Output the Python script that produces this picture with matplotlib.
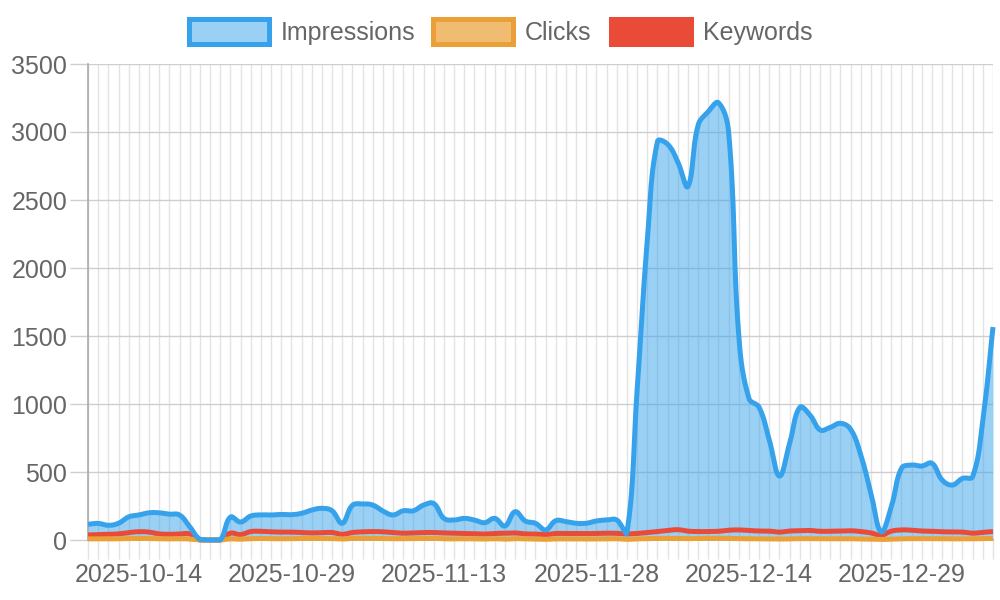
import numpy as np
import pandas as pd
import matplotlib
matplotlib.use("Agg")
import matplotlib.pyplot as plt
from matplotlib.patches import Rectangle

# daily data, one date missing in the export
dates = pd.date_range("2025-10-09", "2026-01-07", freq="D")
dates = dates[dates != pd.Timestamp("2025-12-06")]
date_labels = [d.strftime("%Y-%m-%d") for d in dates]

impressions = [115, 122, 108, 123, 170, 184, 200, 200, 190, 184,
               98, 5, 0, 0, 168, 132, 176, 185, 184, 188,
               186, 196, 220, 233, 215, 123, 255, 265, 257, 213,
               184, 215, 215, 257, 268, 159, 147, 159, 147, 127,
               159, 103, 208, 140, 123, 74, 142, 135, 123, 123,
               140, 147, 147, 55, 1100, 2200, 2930, 2910, 2780, 2600,
               3050, 3150, 3215, 3000, 1500, 1040, 975, 735, 470, 711,
               975, 919, 809, 828, 858, 814, 625, 343, 60, 245,
               527, 551, 544, 564, 441, 404, 453, 466, 880, 1566]

clicks = [8, 9, 8, 10, 11, 12, 10, 9, 8, 9,
          7, 0, 0, 0, 8, 6, 10, 11, 10, 9,
          10, 11, 12, 11, 10, 7, 12, 13, 12, 10,
          9, 10, 11, 12, 12, 9, 8, 9, 8, 7,
          9, 6, 10, 8, 7, 5, 8, 8, 7, 7,
          8, 8, 9, 5, 8, 10, 12, 12, 11, 10,
          12, 13, 13, 12, 10, 9, 9, 8, 7, 8,
          10, 10, 9, 9, 10, 9, 8, 6, 4, 6,
          9, 10, 10, 10, 9, 8, 9, 9, 10, 12]

keywords = [37, 40, 42, 45, 55, 61, 58, 45, 42, 44,
            45, 0, 0, 0, 50, 40, 62, 64, 60, 58,
            58, 55, 52, 54, 55, 42, 55, 60, 62, 60,
            55, 50, 52, 55, 55, 52, 50, 48, 46, 44,
            48, 50, 52, 45, 44, 40, 48, 47, 48, 47,
            48, 50, 49, 45, 48, 55, 62, 70, 76, 65,
            62, 62, 64, 72, 74, 70, 66, 65, 58, 66,
            68, 70, 64, 64, 66, 68, 62, 52, 35, 65,
            74, 72, 66, 64, 60, 60, 58, 50, 56, 62]

BLUE = (54 / 255, 162 / 255, 235 / 255)
ORANGE = (235 / 255, 160 / 255, 55 / 255)
RED = (234 / 255, 74 / 255, 56 / 255)
GREY = "#666666"
YMAX = 3500
FS = 18

plt.rcParams["font.family"] = ["Liberation Sans", "DejaVu Sans"]


def smooth(y, tension=0.4, sx=10.17, sy=0.136, steps=16):
    # same bezier control points as a chart.js line with tension
    n = len(y)
    px = np.arange(n) * sx
    py = np.asarray(y, float) * sy
    cp = []
    for i in range(n):
        a, b = max(i - 1, 0), min(i + 1, n - 1)
        d01 = np.hypot(px[i] - px[a], py[i] - py[a])
        d12 = np.hypot(px[b] - px[i], py[b] - py[i])
        tot = d01 + d12
        s01 = d01 / tot if tot else 0
        s12 = d12 / tot if tot else 0
        dx, dy = px[b] - px[a], py[b] - py[a]
        lo = (px[i] - tension * s01 * dx, np.clip(py[i] - tension * s01 * dy, 0, YMAX * sy))
        hi = (px[i] + tension * s12 * dx, np.clip(py[i] + tension * s12 * dy, 0, YMAX * sy))
        cp.append((lo, hi))
    t = np.linspace(0, 1, steps)[:, None]
    out = []
    for i in range(n - 1):
        p0 = np.array([px[i], py[i]])
        p1 = np.array(cp[i][1])
        p2 = np.array(cp[i + 1][0])
        p3 = np.array([px[i + 1], py[i + 1]])
        seg = ((1 - t) ** 3) * p0 + 3 * ((1 - t) ** 2) * t * p1 + 3 * (1 - t) * t ** 2 * p2 + t ** 3 * p3
        out.append(seg if i == 0 else seg[1:])
    out = np.vstack(out)
    return out[:, 0] / sx, out[:, 1] / sy


fig = plt.figure(figsize=(10, 6), dpi=100)
ax = fig.add_axes([0.088, 0.1, 0.905, 1 - 0.1 - 64 / 600])

xi, yi = smooth(impressions)
xc, yc = smooth(clicks)
xk, yk = smooth(keywords)

lw = 3.6
ax.fill_between(xi, 0, yi, color=BLUE, alpha=0.5, lw=0, zorder=2)
ax.fill_between(xc, 0, yc, color=ORANGE, alpha=0.5, lw=0, zorder=2.5)
ax.plot(xk, yk, color=RED, lw=lw, zorder=3, clip_on=False, solid_capstyle="butt")
ax.plot(xc, yc, color=ORANGE, lw=lw, zorder=3.5, clip_on=False, solid_capstyle="butt")
ax.plot(xi, yi, color=BLUE, lw=lw, zorder=4, clip_on=False, solid_capstyle="butt")

n = len(impressions)
ax.set_xlim(0, n - 1)
ax.set_ylim(0, YMAX)
ax.set_axisbelow(True)

ax.set_xticks(range(n))
ax.set_xticklabels([date_labels[i] if i % 15 == 5 else "" for i in range(n)])
ax.set_yticks(range(0, YMAX + 1, 500))
ax.grid(axis="x", color="#e3e3e3", lw=1)
ax.grid(axis="y", color="#cfcfcf", lw=1)
ax.tick_params(axis="x", length=13.7, width=1, color="#e3e3e3", pad=3,
               labelsize=FS, labelcolor=GREY)
ax.tick_params(axis="y", length=13, width=1, color="#cfcfcf", pad=2,
               labelsize=FS, labelcolor=GREY)

for side in ("top", "right"):
    ax.spines[side].set_visible(False)
ax.spines["left"].set_color("#aaaaaa")
ax.spines["left"].set_linewidth(1.2)
ax.spines["bottom"].set_color("#aaaaaa")
ax.spines["bottom"].set_linewidth(1.2)

# legend drawn like chart.js boxes
W, H = 1000, 600
legend = [("Impressions", BLUE, (BLUE[0], BLUE[1], BLUE[2], 0.5), 188.5),
          ("Clicks", ORANGE, (ORANGE[0], ORANGE[1], ORANGE[2], 0.7), 432.5),
          ("Keywords", RED, RED, 610.5)]
for name, edge, face, x0 in legend:
    fig.patches.append(Rectangle((x0 / W, 1 - 43.5 / H), 80 / W, 24 / H,
                                 transform=fig.transFigure, facecolor="white",
                                 edgecolor="none"))
    fig.patches.append(Rectangle((x0 / W, 1 - 43.5 / H), 80 / W, 24 / H,
                                 transform=fig.transFigure, facecolor=face,
                                 edgecolor=edge, lw=3.6))
    fig.text((x0 + 92.5) / W, 1 - 40 / H, name, fontsize=FS, color=GREY,
             ha="left", va="baseline")

fig.savefig("out.png", dpi=100)
